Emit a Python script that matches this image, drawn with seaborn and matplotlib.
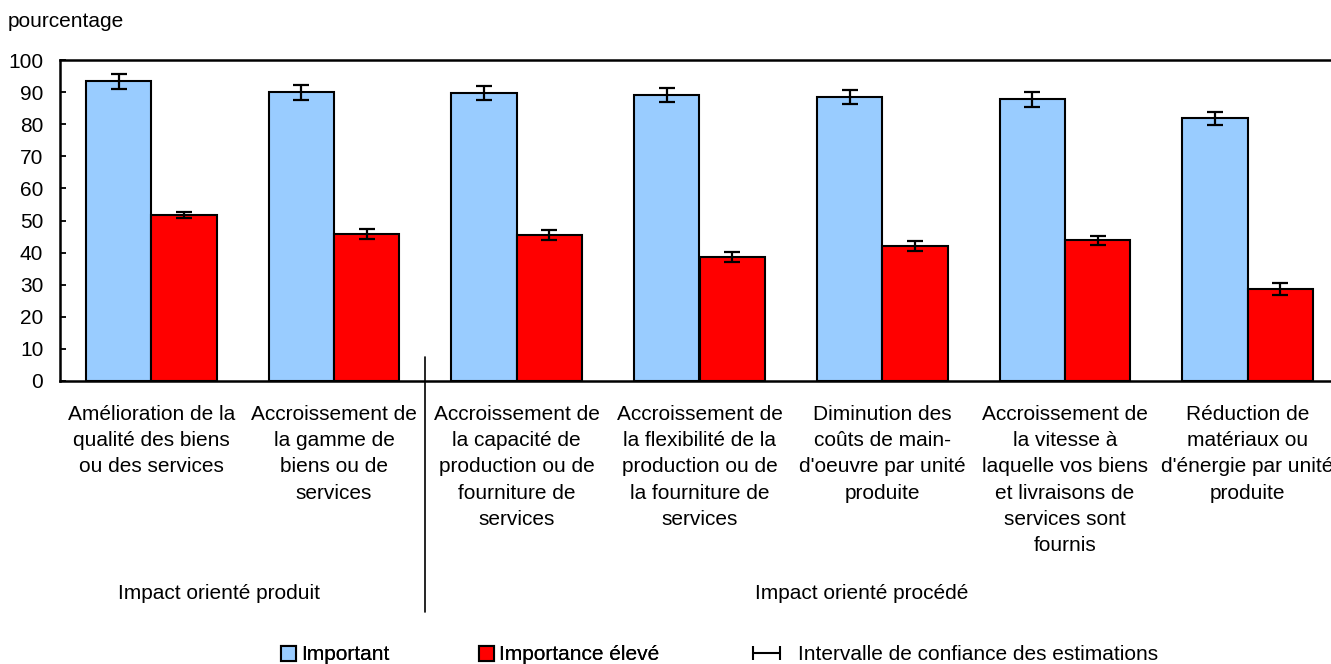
import matplotlib
matplotlib.use("Agg")
import matplotlib.pyplot as plt
import seaborn as sns
import pandas as pd
from matplotlib.patches import Patch
from matplotlib.lines import Line2D


CATEGORIES = [
    "Amélioration de la\nqualité des biens\nou des services",
    "Accroissement de\nla gamme de\nbiens ou de\nservices",
    "Accroissement de\nla capacité de\nproduction ou de\nfourniture de\nservices",
    "Accroissement de\nla flexibilité de la\nproduction ou de\nla fourniture de\nservices",
    "Diminution des\ncoûts de main-\nd'oeuvre par unité\nproduite",
    "Accroissement de\nla vitesse à\nlaquelle vos biens\net livraisons de\nservices sont\nfournis",
    "Réduction de\nmatériaux ou\nd'énergie par unité\nproduite",
]
SERIES = ["Important", "Importance élevé"]
IMPORTANT = [93.4, 89.9, 89.7, 89.1, 88.4, 87.7, 81.8]
IMPORTANT_ERR = [2.3, 2.4, 2.2, 2.2, 2.1, 2.2, 2.1]
ELEVE = [51.7, 45.7, 45.4, 38.6, 42.1, 43.8, 28.6]
ELEVE_ERR = [1.0, 1.5, 1.5, 1.5, 1.5, 1.5, 1.8]
GROUP_LABELS = ["Impact orienté produit", "Impact orienté procédé"]
CI_LABEL = "Intervalle de confiance des estimations"
Y_LABEL = "pourcentage"
COLORS = ["#99CCFF", "#FF0000"]

FONT = ["Liberation Sans", "DejaVu Sans"]
FS = 15


def build_frame():
    rows = []
    for cat, v, e in zip(CATEGORIES, IMPORTANT, IMPORTANT_ERR):
        rows.append({"cat": cat, "serie": SERIES[0], "value": v, "err": e})
    for cat, v, e in zip(CATEGORIES, ELEVE, ELEVE_ERR):
        rows.append({"cat": cat, "serie": SERIES[1], "value": v, "err": e})
    return pd.DataFrame(rows)


def main():
    sns.set_style("white")
    plt.rcParams["font.family"] = FONT
    plt.rcParams["text.color"] = "black"
    plt.rcParams["xtick.color"] = "black"
    plt.rcParams["ytick.color"] = "black"

    df = build_frame()
    W, H = 1331, 664
    fig = plt.figure(figsize=(W / 100, H / 100), dpi=100)
    ax = fig.add_axes([60 / W, (H - 381) / H, (1339 - 60) / W, (381 - 60) / H])

    sns.barplot(
        data=df, x="cat", y="value", hue="serie", order=CATEGORIES,
        hue_order=SERIES, palette=COLORS, width=0.716, errorbar=None,
        edgecolor="black", linewidth=1.5, saturation=1, legend=False, ax=ax,
    )

    # error bars on each bar, positions taken from the drawn patches
    errs = IMPORTANT_ERR + ELEVE_ERR
    vals = IMPORTANT + ELEVE
    xs = [p.get_x() + p.get_width() / 2 for p in ax.patches[: len(vals)]]
    ax.errorbar(xs, vals, yerr=errs, fmt="none", ecolor="black",
                elinewidth=1.6, capsize=5.8, capthick=1.6, zorder=5)

    ax.set_xlim(-0.5, len(CATEGORIES) - 0.5)
    ax.set_ylim(0, 100)
    ax.set_yticks(range(0, 101, 10))
    ax.set_xlabel("")
    ax.set_ylabel("")
    ax.tick_params(axis="y", direction="in", length=4, width=1.3,
                   labelsize=FS, pad=12, left=True, labelcolor="black")
    ax.tick_params(axis="x", length=0, labelsize=FS, pad=17,
                   labelcolor="black")
    for lab in ax.get_xticklabels():
        lab.set_linespacing(1.49)
        lab.set_multialignment("center")
    for side in ["left", "bottom", "top", "right"]:
        ax.spines[side].set_visible(True)
        ax.spines[side].set_color("black")
        ax.spines[side].set_linewidth(1.8)

    # divider between product and process oriented impacts
    ax.axvline(1.5, ymin=(381 - 612) / 321, ymax=(381 - 357) / 321,
               color="black", linewidth=1.2, clip_on=False)

    xt = ax.get_xaxis_transform()
    ax.text(0.37, -0.662, GROUP_LABELS[0], transform=xt, ha="center",
            va="center", fontsize=FS)
    ax.text(3.89, -0.662, GROUP_LABELS[1], transform=xt, ha="center",
            va="center", fontsize=FS)

    fig.text(8 / W, (H - 27) / H, Y_LABEL, fontsize=FS,
             ha="left", va="baseline")

    handles = [Patch(facecolor=c, edgecolor="black", linewidth=1.5)
               for c in COLORS]
    leg1 = fig.legend(handles, SERIES, loc="center left",
                      bbox_to_anchor=(281 / W, 9 / H), ncol=2, frameon=False,
                      fontsize=FS, handlelength=0.72, handleheight=0.72,
                      handletextpad=0.25, columnspacing=4.3, borderpad=0,
                      borderaxespad=0)
    fig.add_artist(leg1)
    ci = Line2D([], [], color="black", linewidth=1.5, marker="|",
                markersize=10, markeredgewidth=1.5)
    fig.legend([ci], [CI_LABEL], loc="center left",
               bbox_to_anchor=(747 / W, 9 / H), frameon=False, fontsize=FS,
               handlelength=1.9, handletextpad=0.53, numpoints=2,
               borderpad=0, borderaxespad=0)

    fig.savefig("out.png", dpi=100)


if __name__ == "__main__":
    main()
